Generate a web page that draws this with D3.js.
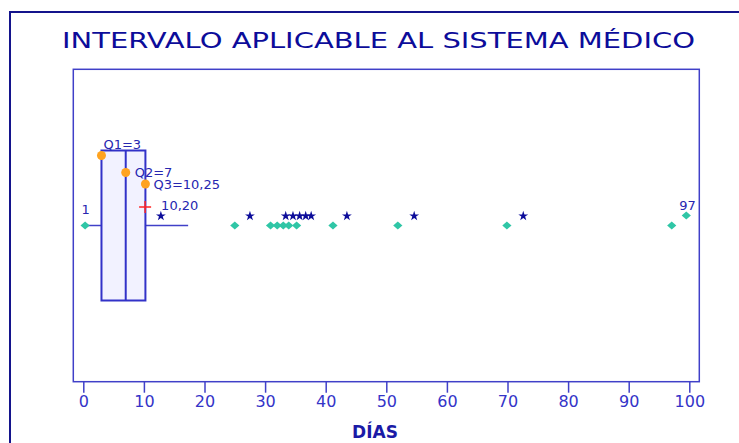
<!DOCTYPE html>
<html lang="es">
<head>
<meta charset="utf-8">
<title>Intervalo aplicable al sistema médico</title>
<script src="https://cdn.jsdelivr.net/npm/d3@7"></script>
<style>
  body { margin: 0; background: #fff; }
  svg text { font-family: "DejaVu Sans", Verdana, sans-serif; }
</style>
</head>
<body>
<svg id="chart" width="739" height="443"></svg>
<script>
// data (days)
var diasPuntos = [0.3, 25.0, 30.9, 32.0, 33.0, 33.9, 35.2, 41.2, 51.9, 69.9, 97.1];
var diasEstrellas = [12.8, 27.5, 33.4, 34.6, 35.7, 36.7, 37.6, 43.5, 54.6, 72.6];
var maximo = 99.5, maximoLabel = "97";
var minimoLabel = "1";
var cuartiles = [3, 7, 10.25];            // Q1, Q2, Q3
var cuartilLabels = ["Q1=3", "Q2=7", "Q3=10,25"];
var media = 10.2, mediaLabel = "10,20";
var bigoteFin = 17.3;
var ticksX = [0, 10, 20, 30, 40, 50, 60, 70, 80, 90, 100];

var svg = d3.select("#chart");
var L = 73.3, R = 699.3, T = 69.3, B = 381.7;
var navy = "#0c0c9a", line = "#4040c8", txt = "#2626b0";

var x = d3.scaleLinear().domain([-1.65, 101.65]).range([L, R]);
var y = d3.scaleLinear().domain([-1, 1]).range([B, T]);
var cy = y(0);

// outer frame
svg.append("rect").attr("x", 10).attr("y", 12).attr("width", 760).attr("height", 460)
  .attr("fill", "none").attr("stroke", "#14148c").attr("stroke-width", 2);

svg.append("text").attr("x", 378.5).attr("y", 48).attr("text-anchor", "middle")
  .attr("font-size", 22).attr("fill", navy)
  .attr("textLength", 633).attr("lengthAdjust", "spacingAndGlyphs")
  .text("INTERVALO APLICABLE AL SISTEMA MÉDICO");

// plot box
svg.append("rect").attr("x", L).attr("y", T).attr("width", R - L).attr("height", B - T)
  .attr("fill", "#fff").attr("stroke", line).attr("stroke-width", 1.5);

// axis
var ax = svg.append("g").attr("transform", "translate(0," + B + ")")
  .call(d3.axisBottom(x).tickValues(ticksX).tickSize(11).tickPadding(3).tickSizeOuter(0));
ax.select(".domain").remove();
ax.selectAll("line").attr("stroke", line).attr("stroke-width", 1.5);
ax.selectAll("text").attr("fill", "#3434c8").attr("font-size", 16)
  .attr("font-family", "DejaVu Sans, sans-serif");

svg.append("text").attr("x", 375).attr("y", 438).attr("text-anchor", "middle")
  .attr("font-size", 17).attr("font-weight", "bold").attr("fill", "#1a1aa6").text("DÍAS");

// whiskers
var half = 75;
svg.append("line").attr("x1", x(diasPuntos[0])).attr("x2", x(cuartiles[0]))
  .attr("y1", cy).attr("y2", cy).attr("stroke", line).attr("stroke-width", 1.5);
svg.append("line").attr("x1", x(cuartiles[2])).attr("x2", x(bigoteFin))
  .attr("y1", cy).attr("y2", cy).attr("stroke", line).attr("stroke-width", 1.5);

// box
svg.append("rect").attr("x", x(cuartiles[0])).attr("y", cy - half)
  .attr("width", x(cuartiles[2]) - x(cuartiles[0])).attr("height", 2 * half)
  .attr("fill", "#f2f2ff").attr("stroke", "#3232c8").attr("stroke-width", 2);
svg.append("line").attr("x1", x(cuartiles[1])).attr("x2", x(cuartiles[1]))
  .attr("y1", cy - half).attr("y2", cy + half).attr("stroke", "#3232c8").attr("stroke-width", 2);

// quartile markers
var qOff = [-70, -53, -41.5];
var qLab = [[2, -7], [9, 4], [8, 5]];
svg.selectAll(".q").data(cuartiles).enter().append("circle")
  .attr("cx", function(d) { return x(d); })
  .attr("cy", function(d, i) { return cy + qOff[i]; })
  .attr("r", 4.5).attr("fill", "#ffa31f");
svg.selectAll(".ql").data(cuartilLabels).enter().append("text")
  .attr("x", function(d, i) { return x(cuartiles[i]) + qLab[i][0]; })
  .attr("y", function(d, i) { return cy + qOff[i] + qLab[i][1]; })
  .attr("font-size", 13).attr("fill", txt).text(function(d) { return d; });

// mean
var my = cy - 18.5;
svg.append("path")
  .attr("d", "M" + (x(media) - 6) + "," + my + "H" + (x(media) + 6) +
             "M" + x(media) + "," + (my - 6) + "V" + (my + 6))
  .attr("stroke", "#ff2424").attr("stroke-width", 1.5);
svg.append("text").attr("x", x(media) + 16).attr("y", my + 3)
  .attr("font-size", 13).attr("fill", txt).text(mediaLabel);

// stars
var star = d3.symbol().type(d3.symbolStar).size(30);
svg.selectAll(".st").data(diasEstrellas).enter().append("path")
  .attr("d", star)
  .attr("transform", function(d) { return "translate(" + x(d) + "," + (cy - 9.5) + ")"; })
  .attr("fill", navy);

// diamonds
var dia = d3.symbol().type(d3.symbolDiamond2).size(54);
svg.selectAll(".dm").data(diasPuntos).enter().append("path")
  .attr("d", dia)
  .attr("transform", function(d) { return "translate(" + x(d) + "," + cy + ") scale(1,0.85)"; })
  .attr("fill", "#2fc6a6");
svg.append("path").attr("d", dia)
  .attr("transform", "translate(" + x(maximo) + "," + (cy - 10) + ") scale(1,0.85)")
  .attr("fill", "#2fc6a6");

svg.append("text").attr("x", x(diasPuntos[0]) - 3.5).attr("y", cy - 12)
  .attr("font-size", 13).attr("fill", txt).text(minimoLabel);
svg.append("text").attr("x", x(maximo) - 7).attr("y", cy - 16)
  .attr("font-size", 13).attr("fill", txt).text(maximoLabel);
</script>
</body>
</html>
